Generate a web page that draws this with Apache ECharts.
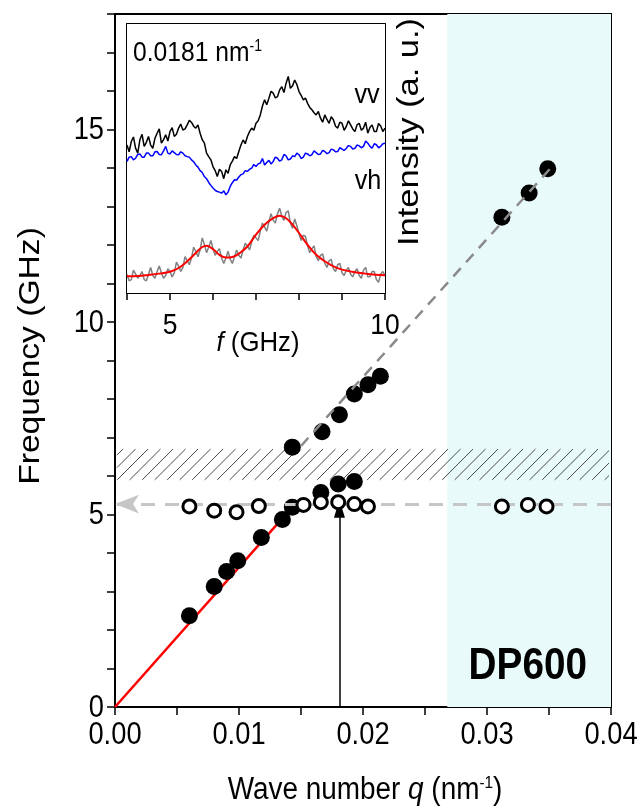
<!DOCTYPE html>
<html>
<head>
<meta charset="utf-8">
<script src="https://cdn.jsdelivr.net/npm/echarts@6/dist/echarts.min.js"></script>
<style>
  html, body { margin: 0; padding: 0; background: #fff; }
  #chart { width: 638px; height: 808px; }
</style>
</head>
<body>
<div id="chart"></div>
<script>
// ---- Main panel: dispersion of DP600 ----
const xTicks = [0.00, 0.01, 0.02, 0.03, 0.04];
const yTicks = [0, 5, 10, 15];

// filled circles: measured peak frequencies
const filledQ = [0.0060, 0.0080, 0.0090, 0.0099, 0.0118, 0.0135, 0.0143, 0.0166, 0.0180, 0.0193,
                 0.0143, 0.0167, 0.0181, 0.0193, 0.0204, 0.0214, 0.0312, 0.0334, 0.0349];
const filledF = [2.37, 3.13, 3.52, 3.80, 4.40, 4.87, 5.19, 5.57, 5.79, 5.86,
                 6.75, 7.15, 7.59, 8.13, 8.37, 8.59, 12.72, 13.35, 13.98];

// open circles: q-independent mode
const openQ = [0.0060, 0.0080, 0.0098, 0.0116, 0.0152, 0.0166, 0.0180, 0.0193, 0.0204, 0.0312, 0.0333, 0.0348];
const openF = [5.21, 5.10, 5.06, 5.22, 5.25, 5.32, 5.32, 5.27, 5.21, 5.21, 5.25, 5.21];

// guide lines
const acousticQ = [0, 0.0143];
const acousticF = [0, 5.19];
const upperQ = [0.0150, 0.0352];
const upperF = [6.78, 14.02];
const flatLevel = 5.27;

// q of the spectrum shown in the inset
const selectedQ = 0.0181;
const arrowTopF = 5.15;

// hatched gap band and shaded region
const gapBand = [5.9, 6.7];
const shadedFrom = 0.0268;

// ---- Inset: Brillouin spectra at q = 0.0181 nm^-1 ----
const insetTicks = [5, 10];
const specF = [
  4.00, 4.05, 4.10, 4.15, 4.20, 4.25, 4.30, 4.35, 4.40, 4.45, 4.50, 4.55, 4.60, 4.65, 4.70, 4.75, 4.80, 4.85, 4.90, 4.95,
  5.00, 5.05, 5.10, 5.15, 5.20, 5.25, 5.30, 5.35, 5.40, 5.45, 5.50, 5.55, 5.60, 5.65, 5.70, 5.75, 5.80, 5.85, 5.90, 5.95,
  6.00, 6.05, 6.10, 6.15, 6.20, 6.25, 6.30, 6.35, 6.40, 6.45, 6.50, 6.55, 6.60, 6.65, 6.70, 6.75, 6.80, 6.85, 6.90, 6.95,
  7.00, 7.05, 7.10, 7.15, 7.20, 7.25, 7.30, 7.35, 7.40, 7.45, 7.50, 7.55, 7.60, 7.65, 7.70, 7.75, 7.80, 7.85, 7.90, 7.95,
  8.00, 8.05, 8.10, 8.15, 8.20, 8.25, 8.30, 8.35, 8.40, 8.45, 8.50, 8.55, 8.60, 8.65, 8.70, 8.75, 8.80, 8.85, 8.90, 8.95,
  9.00, 9.05, 9.10, 9.15, 9.20, 9.25, 9.30, 9.35, 9.40, 9.45, 9.50, 9.55, 9.60, 9.65, 9.70, 9.75, 9.80, 9.85, 9.90, 9.95,
  10.00];
const vvI = [
  55.0, 52.5, 56.3, 58.0, 53.8, 52.0, 57.0, 59.0, 54.5, 56.0, 58.2, 55.0, 53.8, 57.5, 59.4, 61.0, 55.7, 57.0, 58.8, 56.5,
  60.0, 61.5, 58.2, 59.0, 61.3, 62.8, 60.6, 61.0, 62.5, 64.2, 63.4, 62.0, 61.3, 62.5, 59.4, 57.0, 55.7, 52.0, 50.7, 49.5,
  47.0, 45.5, 43.3, 46.0, 45.2, 42.5, 45.8, 44.5, 47.6, 49.0, 50.7, 50.0, 52.6, 55.0, 56.9, 55.5, 58.2, 60.0, 61.3, 60.5,
  63.1, 64.0, 66.2, 69.5, 71.8, 70.0, 72.4, 75.0, 74.3, 72.5, 73.0, 75.5, 76.7, 74.5, 78.0, 80.5, 76.1, 77.0, 79.2, 77.5,
  74.9, 73.5, 71.8, 72.5, 70.5, 69.0, 68.1, 67.0, 66.2, 67.5, 65.0, 63.5, 66.2, 64.5, 63.1, 65.5, 64.4, 62.0, 61.3, 63.5,
  63.1, 60.5, 61.9, 64.0, 62.5, 61.0, 60.0, 62.5, 63.1, 60.5, 61.3, 63.5, 59.4, 61.5, 62.5, 60.0, 60.0, 63.0, 62.1, 60.0,
  61.3];
const vhI = [
  48.9, 50.5, 50.7, 49.5, 50.1, 51.5, 51.7, 50.5, 50.5, 52.0, 52.0, 51.0, 51.0, 52.5, 52.6, 51.5, 51.4, 52.8, 54.5, 52.0,
  51.7, 52.8, 52.2, 51.5, 51.4, 52.5, 52.0, 51.0, 50.7, 50.5, 49.5, 48.8, 47.6, 46.8, 45.5, 44.8, 43.3, 42.5, 41.1, 40.0,
  39.0, 38.2, 37.7, 37.5, 37.1, 38.0, 36.5, 37.5, 39.6, 41.0, 42.1, 42.0, 43.1, 44.0, 44.3, 45.5, 45.2, 46.0, 46.4, 47.8,
  47.0, 48.0, 48.3, 50.0, 47.6, 48.5, 49.3, 48.0, 48.9, 50.5, 50.1, 49.0, 49.5, 51.5, 51.0, 49.5, 49.8, 51.0, 50.7, 52.0,
  51.4, 50.0, 50.5, 52.0, 51.7, 51.0, 51.4, 52.8, 52.2, 51.5, 51.7, 53.0, 52.6, 51.8, 52.2, 53.5, 53.2, 52.5, 52.6, 54.0,
  53.5, 53.0, 53.8, 54.8, 54.5, 53.5, 53.8, 55.0, 54.7, 54.0, 54.5, 56.5, 55.7, 54.5, 53.8, 55.5, 55.1, 54.0, 54.5, 55.5,
  55.7];
const diffI = [
  7.0, 4.5, 5.0, 8.5, 7.0, 5.5, 6.5, 8.0, 5.0, 4.5, 7.0, 9.5, 6.5, 5.5, 8.0, 10.0, 7.5, 5.5, 6.5, 9.0,
  8.0, 6.0, 7.5, 11.5, 10.0, 8.0, 9.5, 13.5, 12.0, 10.5, 13.0, 17.0, 15.5, 13.5, 16.0, 20.5, 18.0, 15.0, 17.0, 19.5,
  16.5, 14.0, 15.5, 16.5, 13.0, 11.0, 13.0, 15.5, 12.5, 11.0, 13.5, 16.0, 14.0, 13.0, 16.0, 18.5, 17.5, 16.0, 19.0, 21.5,
  20.5, 19.5, 23.0, 26.0, 24.5, 23.0, 26.5, 29.5, 27.0, 26.0, 29.5, 31.5, 28.5, 27.0, 30.0, 30.5, 26.0, 24.0, 27.5, 25.0,
  22.0, 19.5, 21.5, 21.0, 17.5, 15.0, 16.5, 17.5, 13.5, 12.0, 14.0, 14.5, 11.0, 9.5, 12.0, 12.5, 9.0, 8.0, 10.5, 11.0,
  7.5, 6.5, 8.5, 9.5, 7.0, 6.0, 8.0, 9.0, 6.5, 5.5, 8.5, 9.5, 6.0, 6.0, 8.0, 8.0, 5.0, 4.0, 7.0, 8.0,
  6.5];
const fitF = [4.0, 4.25, 4.5, 4.75, 5.0, 5.2, 5.4, 5.6, 5.75, 5.85, 6.0, 6.15, 6.3, 6.45, 6.6,
              6.8, 7.0, 7.2, 7.4, 7.55, 7.7, 7.85, 8.0, 8.2, 8.4, 8.6, 8.8, 9.0, 9.3, 9.6, 10.0];
const fitI = [6.2, 6.3, 6.7, 7.2, 7.9, 9.3, 11.8, 14.9, 17.1, 17.6, 16.3, 14.2, 13.2, 13.4, 14.6,
              17.3, 21.7, 25.4, 27.8, 28.7, 27.8, 25.4, 22.3, 17.9, 14.2, 11.8, 9.9, 8.7, 7.7, 7.1, 6.6];

const SANS = "'Liberation Sans', Arial, sans-serif";
const black = '#000';

const zip = (a, b) => a.map((v, i) => [v, b[i]]);

const chart = echarts.init(document.getElementById('chart'), null, { renderer: 'canvas' });

const axisLine = { show: true, onZero: false, lineStyle: { color: black, width: 2 } };
const tickOut = (len) => ({ show: true, inside: false, length: len, lineStyle: { color: black, width: 1.5 } });
const tickIn = (len) => ({ show: true, inside: true, length: len, lineStyle: { color: black, width: 1.5 } });
const noLabel = { show: false };
const noSplit = { show: false };

const option = {
  backgroundColor: '#fff',
  animation: false,
  grid: [
    { left: 115, top: 14, width: 496, height: 693 },
    { left: 127, top: 24, width: 258, height: 269, show: true, backgroundColor: '#fff', borderWidth: 0, z: 5 }
  ],
  xAxis: [
    { gridIndex: 0, type: 'value', position: 'bottom', min: 0, max: 0.04, interval: 0.005,
      axisLine: axisLine, axisTick: tickOut(8), axisLabel: noLabel, splitLine: noSplit },
    { gridIndex: 0, type: 'value', position: 'top', min: 0, max: 0.04,
      axisLine: axisLine, axisTick: { show: false }, axisLabel: noLabel, splitLine: noSplit },
    { gridIndex: 1, type: 'value', position: 'bottom', min: 4, max: 10, interval: 1,
      axisLine: axisLine, axisTick: tickOut(7), axisLabel: noLabel, splitLine: noSplit },
    { gridIndex: 1, type: 'value', position: 'top', min: 4, max: 10, interval: 1,
      axisLine: axisLine, axisTick: tickIn(7), axisLabel: noLabel, splitLine: noSplit }
  ],
  yAxis: [
    { gridIndex: 0, type: 'value', position: 'left', min: 0, max: 18, interval: 1,
      axisLine: axisLine, axisTick: tickOut(8), axisLabel: noLabel, splitLine: noSplit },
    { gridIndex: 0, type: 'value', position: 'right', min: 0, max: 18, interval: 1,
      axisLine: axisLine, axisTick: tickIn(8), axisLabel: noLabel, splitLine: noSplit },
    { gridIndex: 1, type: 'value', position: 'left', min: 0, max: 100,
      axisLine: axisLine, axisTick: { show: false }, axisLabel: noLabel, splitLine: noSplit },
    { gridIndex: 1, type: 'value', position: 'right', min: 0, max: 100,
      axisLine: axisLine, axisTick: { show: false }, axisLabel: noLabel, splitLine: noSplit }
  ],
  series: [
    // shaded q region
    {
      type: 'line', xAxisIndex: 0, yAxisIndex: 0, data: [], z: 0, silent: true,
      markArea: {
        silent: true,
        itemStyle: { color: '#e9fafa' },
        data: [[{ xAxis: shadedFrom }, { xAxis: 0.04 }]]
      }
    },
    // hatched band
    {
      type: 'custom', xAxisIndex: 0, yAxisIndex: 0, z: 1, silent: true,
      data: [[0, 0.04, gapBand[0], gapBand[1]]],
      renderItem: function (params, api) {
        const tl = api.coord([api.value(0), api.value(3)]);
        const br = api.coord([api.value(1), api.value(2)]);
        const x0 = tl[0] + 2, x1 = br[0] - 2, yT = tl[1], yB = br[1];
        const h = yB - yT;
        const step = 12.5;
        const children = [];
        for (let s = x0 - h + 6; s < x1; s += step) {
          let ax = s, ay = yB, bx = s + h, by = yT;
          if (ax < x0) { ay = yB - (x0 - ax); ax = x0; }
          if (bx > x1) { by = yT + (bx - x1); bx = x1; }
          if (bx <= ax) continue;
          children.push({
            type: 'line',
            shape: { x1: ax, y1: ay, x2: bx, y2: by },
            style: { stroke: '#4a4a4a', lineWidth: 1 }
          });
        }
        return { type: 'group', children: children };
      }
    },
    // linear acoustic branch
    {
      type: 'line', xAxisIndex: 0, yAxisIndex: 0, z: 2, symbol: 'none',
      data: zip(acousticQ, acousticF),
      lineStyle: { color: '#ff0000', width: 2.5 }
    },
    // flat mode guide with arrow towards the axis
    {
      type: 'line', xAxisIndex: 0, yAxisIndex: 0, z: 3, data: [],
      markLine: {
        silent: true, animation: false,
        symbol: ['none', 'arrow'], symbolSize: [14, 24],
        label: { show: false },
        lineStyle: { color: '#c6c6c6', width: 3, type: [14, 10] },
        data: [[{ coord: [0.04, flatLevel] }, { coord: [0, flatLevel] }]]
      }
    },
    // selected q marker
    {
      type: 'line', xAxisIndex: 0, yAxisIndex: 0, z: 3, data: [],
      markLine: {
        silent: true, animation: false,
        symbol: ['none', 'triangle'], symbolSize: [11, 18],
        label: { show: false },
        lineStyle: { color: black, width: 1.5, type: 'solid' },
        data: [[{ coord: [selectedQ, 0] }, { coord: [selectedQ, arrowTopF] }]]
      }
    },
    // filled circles
    {
      type: 'scatter', xAxisIndex: 0, yAxisIndex: 0, z: 4,
      symbol: 'circle', symbolSize: 17,
      itemStyle: { color: black, opacity: 1 },
      data: zip(filledQ, filledF)
    },
    // dashed guide through upper branch
    {
      type: 'line', xAxisIndex: 0, yAxisIndex: 0, z: 5, symbol: 'none',
      data: zip(upperQ, upperF),
      lineStyle: { color: '#8a8a8a', width: 2.5, type: [11, 8] }
    },
    // open circles
    {
      type: 'scatter', xAxisIndex: 0, yAxisIndex: 0, z: 6,
      symbol: 'circle', symbolSize: 13,
      itemStyle: { color: '#fff', borderColor: black, borderWidth: 3, opacity: 1 },
      data: zip(openQ, openF)
    },
    // inset spectra
    {
      type: 'line', xAxisIndex: 2, yAxisIndex: 2, z: 7, symbol: 'none',
      data: zip(specF, vvI), lineStyle: { color: black, width: 1.5 }
    },
    {
      type: 'line', xAxisIndex: 2, yAxisIndex: 2, z: 7, symbol: 'none',
      data: zip(specF, vhI), lineStyle: { color: '#0000ff', width: 1.5 }
    },
    {
      type: 'line', xAxisIndex: 2, yAxisIndex: 2, z: 7, symbol: 'none',
      data: zip(specF, diffI), lineStyle: { color: '#808080', width: 1.5 }
    },
    {
      type: 'line', xAxisIndex: 2, yAxisIndex: 2, z: 8, symbol: 'none', smooth: 0.4,
      data: zip(fitF, fitI), lineStyle: { color: '#ff0000', width: 2 }
    }
  ]
};

chart.setOption(option);

// Text is drawn as graphic elements placed through the axes' own scales,
// so that the condensed lettering of the figure can be reproduced.
const toX = (idx, v) => chart.convertToPixel({ xAxisIndex: idx }, v);
const toY = (idx, v) => chart.convertToPixel({ yAxisIndex: idx }, v);

function label(text, x, y, o) {
  o = o || {};
  return {
    type: 'text', x: x, y: y, z: 100, silent: true,
    rotation: o.rot || 0, scaleX: o.sx || 1, scaleY: o.sy || 1,
    style: {
      text: text, fill: black, font: o.font || ('31px ' + SANS),
      align: o.align || 'center', verticalAlign: o.va || 'middle',
      rich: o.rich
    }
  };
}

const sup = (size) => ({ s: { fontSize: size, fontFamily: SANS, verticalAlign: 'top', fill: black } });
const graphics = [];

xTicks.forEach(v => graphics.push(label(v.toFixed(2), toX(0, v), toY(0, 0) + 28, { sx: 0.88 })));
yTicks.forEach(v => graphics.push(label(String(v), 104, toY(0, v) + 1, { sx: 0.88, align: 'right' })));
insetTicks.forEach(v => graphics.push(label(String(v), toX(2, v), toY(2, 0) + 33, { sx: 0.88, font: '30px ' + SANS })));

graphics.push(label('Frequency (GHz)', 31, 356, { rot: Math.PI / 2, sx: 1.12, font: '30px ' + SANS }));
graphics.push(label('Wave number {i|q} (nm{s|-1})', 365, 790, {
  sx: 0.9,
  rich: Object.assign({ i: { fontStyle: 'italic', fontSize: 31, fontFamily: SANS, fill: black } }, sup(17))
}));
graphics.push(label('{i|f} (GHz)', 258, 343, {
  sx: 0.92, font: '28px ' + SANS,
  rich: { i: { fontStyle: 'italic', fontSize: 28, fontFamily: SANS, fill: black } }
}));
graphics.push(label('0.0181 nm{s|-1}', 133, 53, { sx: 0.88, align: 'left', font: '28px ' + SANS, rich: sup(16) }));
graphics.push(label('vv', 367, 95, { sx: 0.9, font: '28px ' + SANS }));
graphics.push(label('vh', 368, 181, { sx: 0.9, font: '28px ' + SANS }));
graphics.push(label('Intensity (a. u.)', 410, 132, { rot: Math.PI / 2, sx: 1.15, font: '30px ' + SANS }));
graphics.push(label('DP600', 587, 667, { sx: 0.88, align: 'right', font: 'bold 44px ' + SANS }));

chart.setOption({ graphic: graphics });
</script>
</body>
</html>
